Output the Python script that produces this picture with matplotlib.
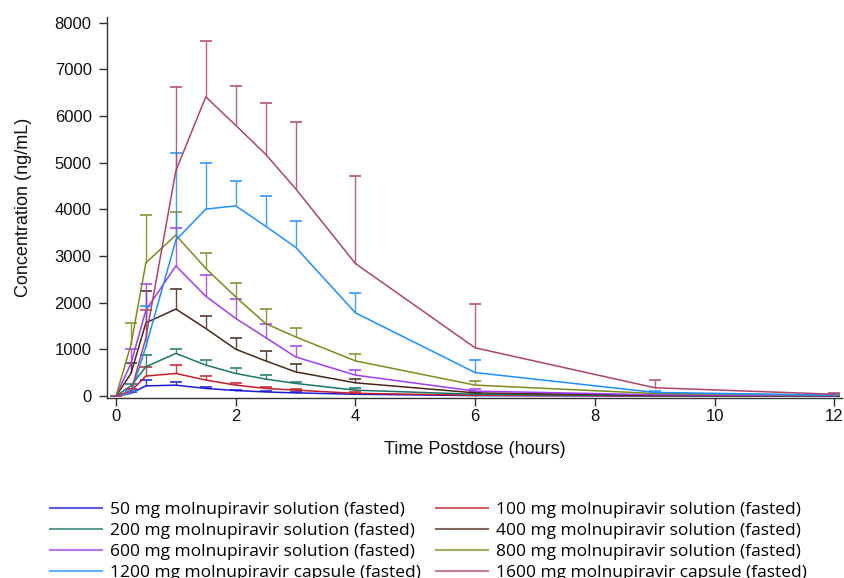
import matplotlib
matplotlib.use("Agg")
import matplotlib.pyplot as plt
from matplotlib.lines import Line2D
import numpy as np
import logging
logging.getLogger('matplotlib.font_manager').setLevel(logging.ERROR)

plt.rcParams['font.family'] = ['Liberation Sans', 'DejaVu Sans']

times = [0, 0.25, 0.5, 1, 1.5, 2, 2.5, 3, 4, 6, 9, 12]

labels = [
    "50 mg molnupiravir solution (fasted)",
    "100 mg molnupiravir solution (fasted)",
    "200 mg molnupiravir solution (fasted)",
    "400 mg molnupiravir solution (fasted)",
    "600 mg molnupiravir solution (fasted)",
    "800 mg molnupiravir solution (fasted)",
    "1200 mg molnupiravir capsule (fasted)",
    "1600 mg molnupiravir capsule (fasted)",
]
colors = ["#1a1ad8", "#c41e2a", "#1c7566", "#4a2718",
          "#a23cf0", "#7d8c1c", "#1f8fff", "#b0436e"]

mean_50 = [0, 60, 220, 235, 165, 120, 90, 70, 40, 12, 4, 2]
sd_50 = [0, 30, 120, 70, 20, 15, 10, 10, 8, 4, 2, 1]
mean_100 = [0, 110, 430, 485, 345, 236, 165, 128, 60, 20, 5, 2]
sd_100 = [0, 50, 200, 180, 85, 50, 25, 22, 20, 10, 3, 1]
mean_200 = [0, 220, 630, 915, 665, 485, 365, 272, 128, 40, 10, 5]
sd_200 = [0, 40, 250, 105, 105, 108, 85, 35, 50, 15, 5, 2]
mean_400 = [0, 485, 1570, 1865, 1450, 1005, 755, 520, 285, 70, 15, 5]
sd_400 = [0, 230, 690, 420, 270, 250, 205, 165, 72, 25, 6, 2]
mean_600 = [0, 700, 1840, 2790, 2140, 1665, 1255, 840, 450, 107, 30, 10]
sd_600 = [0, 300, 570, 820, 450, 410, 300, 240, 105, 36, 10, 4]
mean_800 = [0, 1100, 2855, 3450, 2735, 2125, 1555, 1270, 755, 236, 57, 20]
sd_800 = [0, 460, 1020, 500, 335, 290, 320, 195, 145, 92, 15, 6]
mean_1200 = [0, 60, 1060, 3340, 4005, 4075, 3640, 3190, 1785, 505, 80, 20]
sd_1200 = [0, 40, 870, 1870, 990, 540, 650, 560, 430, 260, 40, 15]
mean_1600 = [0, 100, 1250, 4825, 6410, 5800, 5180, 4445, 2840, 1035, 180, 40]
sd_1600 = [0, 60, 600, 1805, 1200, 850, 1090, 1435, 1870, 928, 163, 30]

means = [mean_50, mean_100, mean_200, mean_400, mean_600, mean_800, mean_1200, mean_1600]
sds = [sd_50, sd_100, sd_200, sd_400, sd_600, sd_800, sd_1200, sd_1600]

W, H = 844, 578
fig = plt.figure(figsize=(W/100, H/100), dpi=100)
ax = fig.add_axes([107/W, 1-398/H, (842-107)/W, (398-17)/H])

for m, s, c, lab in zip(means, sds, colors, labels):
    t = np.array(times, dtype=float)
    m = np.array(m, dtype=float)
    s = np.array(s, dtype=float)
    top = m + s
    ax.vlines(t, m, top, colors=c, lw=1.0, alpha=0.85)
    ax.plot(t, top, ls='none', marker='_', ms=9, mew=1.3, color=c, alpha=0.85)
    ax.plot(t, m, color=c, lw=1.1, label=lab)

ax.set_xlim(-0.15, 12.13)
ax.set_ylim(-40, 8120)
ax.set_xticks(range(0, 13, 2))
ax.set_yticks(range(0, 8001, 1000))
for sp in ['top', 'right']:
    ax.spines[sp].set_visible(False)
for sp in ['left', 'bottom']:
    ax.spines[sp].set_color('#333333')
    ax.spines[sp].set_linewidth(1.0)
ax.tick_params(axis='both', direction='out', length=6, width=1.0,
               color='#333333', labelsize=12, labelcolor='#111111')
ax.tick_params(axis='x', pad=2)
ax.tick_params(axis='y', pad=5)
ax.set_xlabel("Time Postdose (hours)", fontsize=13, labelpad=12, color='#111111')
ax.set_ylabel("Concentration (ng/mL)", fontsize=13, labelpad=16, color='#111111')

leg_size = 12.5
em = leg_size * 100 / 72
leg_handles = [Line2D([0], [0], color=c, lw=1.5, alpha=0.7) for c in colors]
prop = {'family': ['Open Sans', 'Liberation Sans'], 'size': leg_size}
common = dict(loc='upper left', frameon=False, handlelength=52/em,
              handletextpad=8/em, labelspacing=0.28, borderpad=0.0,
              borderaxespad=0.0, prop=prop)
col1 = [0, 2, 4, 6]
col2 = [1, 3, 5, 7]
leg1 = fig.legend([leg_handles[i] for i in col1], [labels[i] for i in col1],
                  bbox_to_anchor=(50/W, 1-502/H), **common)
leg2 = fig.legend([leg_handles[i] for i in col2], [labels[i] for i in col2],
                  bbox_to_anchor=(436/W, 1-502/H), **common)

fig.savefig("out.png", dpi=100)
